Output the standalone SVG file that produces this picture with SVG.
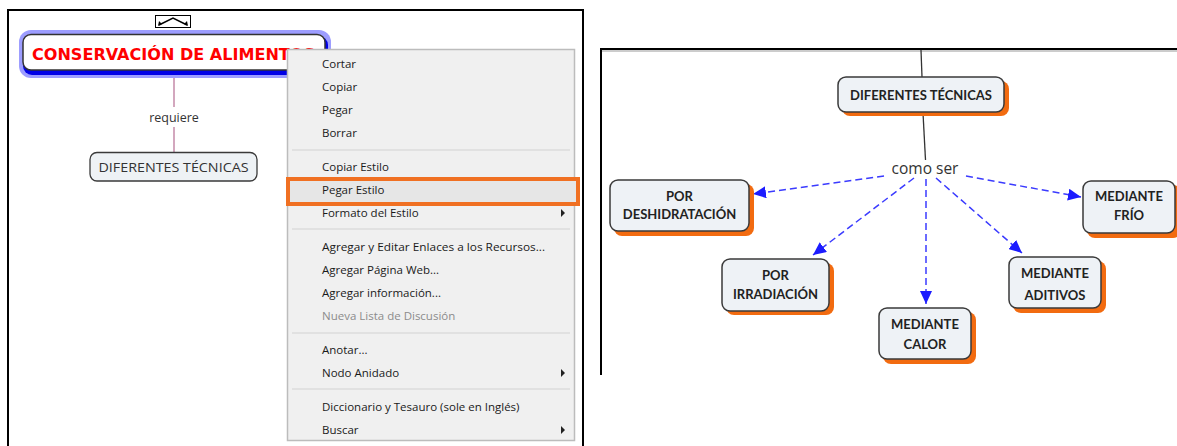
<svg xmlns="http://www.w3.org/2000/svg" width="1177" height="446" viewBox="0 0 1177 446">
<style>
.menu{font-family:"Open Sans","Noto Sans",sans-serif;font-size:11.5px;fill:#1a1a1a}
.dis{fill:#8c8c8c}
.sep{stroke:#dcdcdc;stroke-width:1.5}
.nd{fill:#eef2f6;stroke:#3a3a3a;stroke-width:1.5}
.sh{fill:#f26b10}
.nt{font-family:Lato,"Open Sans",sans-serif;font-weight:bold;font-size:13px;fill:#222;text-anchor:middle}
.dash{stroke:#3b3bff;stroke-width:1.5;stroke-dasharray:7,4;fill:none}
.arr{fill:#1c1cff}
</style>
<defs>
<marker id="ah" markerWidth="14" markerHeight="12" refX="13" refY="6" orient="auto" markerUnits="userSpaceOnUse">
<path d="M0,0 L13,6 L0,12 z" fill="#1c1cff"/>
</marker>
</defs>
<rect width="1177" height="446" fill="#ffffff"/>

<!-- left panel frame -->
<g id="left-panel">
<path d="M8,446 V10 H583 V446" fill="none" stroke="#000" stroke-width="2"/>
<g id="collapse-icon">
<rect x="155.5" y="15.5" width="35" height="12" fill="#fff" stroke="#000" stroke-width="1"/>
<path d="M159,25 L173,18 L187,25" fill="none" stroke="#000" stroke-width="1.5"/>
<path d="M158,26 L159,21 L162,24 z M188,26 L187,21 L184,24 z" fill="#000"/>
</g>
</g>

<g id="connectors-left">
<line x1="174" y1="72" x2="174" y2="107" stroke="#c48aa8" stroke-width="1.5"/>
<line x1="174" y1="127" x2="174" y2="152" stroke="#c48aa8" stroke-width="1.5"/>
<text x="174" y="122" text-anchor="middle" font-family="'Open Sans','Noto Sans',sans-serif" font-size="12.5" fill="#333">requiere</text>
</g>

<g id="node-conservacion">
<rect x="19" y="30" width="312" height="48" rx="12" fill="#9d9dff"/>
<rect x="23" y="36" width="305" height="39" rx="9" fill="#0000e6"/>
<rect x="23" y="34.5" width="302" height="35.5" rx="8" fill="#fff" stroke="#333" stroke-width="1.5"/>
<text x="32" y="60" font-family="'DejaVu Sans',sans-serif" font-weight="bold" font-size="15.5" fill="#ff0000" textLength="283" lengthAdjust="spacingAndGlyphs">CONSERVACIÓN DE ALIMENTOS</text>
</g>

<g id="node-diferentes-left">
<rect x="90" y="152.5" width="167" height="28.5" rx="7" fill="#eef2f5" stroke="#3a3a3a" stroke-width="1.3"/>
<text x="173.5" y="172" text-anchor="middle" font-family="'Open Sans','Noto Sans',sans-serif" font-size="12" fill="#333" textLength="150" lengthAdjust="spacingAndGlyphs">DIFERENTES TÉCNICAS</text>
</g>

<!-- context menu -->
<g id="context-menu">
<rect x="287.5" y="49.5" width="287" height="391" fill="#f0f0f0" stroke="#bcbcbc" stroke-width="1.5"/>
<line class="sep" x1="292" y1="150" x2="570" y2="150"/>
<line class="sep" x1="292" y1="229" x2="570" y2="229"/>
<line class="sep" x1="292" y1="333" x2="570" y2="333"/>
<line class="sep" x1="292" y1="389" x2="570" y2="389"/>
<rect x="290" y="181" width="286" height="21" fill="#e6e6e6"/>
<rect x="288" y="179" width="290" height="25" fill="none" stroke="#f07022" stroke-width="4"/>
<text class="menu" x="322" y="68">Cortar</text>
<text class="menu" x="322" y="91">Copiar</text>
<text class="menu" x="322" y="114">Pegar</text>
<text class="menu" x="322" y="137">Borrar</text>
<text class="menu" x="322" y="171">Copiar Estilo</text>
<text class="menu" x="322" y="194">Pegar Estilo</text>
<text class="menu" x="322" y="217">Formato del Estilo</text>
<text class="menu" x="322" y="251" textLength="223" lengthAdjust="spacingAndGlyphs">Agregar y Editar Enlaces a los Recursos...</text>
<text class="menu" x="322" y="274">Agregar Página Web...</text>
<text class="menu" x="322" y="297">Agregar información...</text>
<text class="menu dis" x="322" y="320">Nueva Lista de Discusión</text>
<text class="menu" x="322" y="354">Anotar...</text>
<text class="menu" x="322" y="377">Nodo Anidado</text>
<text class="menu" x="322" y="411">Diccionario y Tesauro (sole en Inglés)</text>
<text class="menu" x="322" y="434">Buscar</text>
<path d="M561,209 L565,213 L561,217 z M561,369 L565,373 L561,377 z M561,426 L565,430 L561,434 z" fill="#222"/>
</g>

<!-- right panel frame -->
<g id="right-panel">
<path d="M601,375 V49 H1177" fill="none" stroke="#000" stroke-width="2"/>
<line x1="602" y1="51" x2="1177" y2="51" stroke="#999" stroke-width="1"/>
</g>

<g id="connectors-right">
<line x1="921" y1="50" x2="922" y2="77" stroke="#333" stroke-width="1.3"/>
<line x1="923" y1="113" x2="925.5" y2="160" stroke="#333" stroke-width="1.3"/>
<text x="925" y="174" text-anchor="middle" font-family="'Open Sans','Noto Sans',sans-serif" font-size="15.5" fill="#333">como ser</text>
<line class="dash" x1="884" y1="176" x2="753" y2="194" marker-end="url(#ah)"/>
<line class="dash" x1="914" y1="178" x2="813" y2="255" marker-end="url(#ah)"/>
<line class="dash" x1="926" y1="179" x2="926" y2="304" marker-end="url(#ah)"/>
<line class="dash" x1="936" y1="178" x2="1022" y2="253" marker-end="url(#ah)"/>
<line class="dash" x1="966" y1="176" x2="1081" y2="197" marker-end="url(#ah)"/>
</g>

<g id="node-diferentes-right">
<rect class="sh" x="842" y="81" width="167" height="35" rx="8"/>
<rect class="nd" x="838" y="77" width="166" height="35" rx="8"/>
<text class="nt" x="921" y="100">DIFERENTES TÉCNICAS</text>
</g>

<g id="node-deshidratacion">
<rect class="sh" x="614" y="184" width="140" height="52" rx="8"/>
<rect class="nd" x="610" y="180" width="139" height="51" rx="8"/>
<text class="nt" x="679.5" y="201">POR</text>
<text class="nt" x="679.5" y="219">DESHIDRATACIÓN</text>
</g>

<g id="node-irradiacion">
<rect class="sh" x="726" y="263" width="108" height="52" rx="8"/>
<rect class="nd" x="722" y="259" width="107" height="52" rx="8"/>
<text class="nt" x="775.5" y="280">POR</text>
<text class="nt" x="775.5" y="299">IRRADIACIÓN</text>
</g>

<g id="node-calor">
<rect class="sh" x="883" y="312" width="93" height="52" rx="8"/>
<rect class="nd" x="879" y="308" width="92" height="51" rx="8"/>
<text class="nt" x="925" y="329">MEDIANTE</text>
<text class="nt" x="925" y="349">CALOR</text>
</g>

<g id="node-aditivos">
<rect class="sh" x="1013" y="261" width="93" height="52" rx="8"/>
<rect class="nd" x="1009" y="257" width="92" height="51" rx="8"/>
<text class="nt" x="1055" y="278">MEDIANTE</text>
<text class="nt" x="1055" y="300">ADITIVOS</text>
</g>

<g id="node-frio">
<rect class="sh" x="1087" y="185" width="94" height="53" rx="8"/>
<rect class="nd" x="1083" y="181" width="92" height="52" rx="8"/>
<text class="nt" x="1129" y="201">MEDIANTE</text>
<text class="nt" x="1129" y="220">FRÍO</text>
</g>
</svg>
